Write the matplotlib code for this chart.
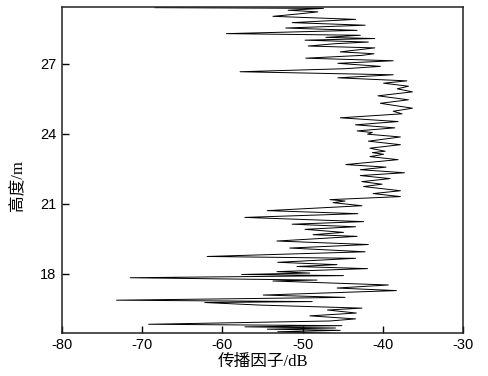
import matplotlib
matplotlib.use("Agg")
import matplotlib.pyplot as plt

# Propagation factor (dB) vs. height (m), top to bottom
factor_db = [
    -68.4, -47.4, -51.8, -48.1, -50.3, -53.7, -43.4, -51.3, -42.2, -52.1,
    -43.2, -59.5, -42.8, -47.1, -41.0, -49.7, -41.8, -45.9, -49.3, -41.0,
    -45.3, -41.1, -42.6, -49.6, -38.7, -45.6, -40.3, -44.7, -57.8, -38.7,
    -45.6, -37.0, -39.9, -36.8, -38.2, -36.3, -40.6, -36.8, -40.3, -36.3,
    -38.7, -37.6, -45.3, -38.1, -43.4, -38.5, -43.2, -41.3, -41.9, -37.8,
    -41.8, -37.8, -41.6, -39.7, -41.3, -39.9, -41.6, -38.1, -44.6, -39.6,
    -42.8, -37.3, -42.8, -39.1, -42.6, -40.1, -42.4, -37.8, -41.2, -37.8,
    -46.6, -44.7, -46.2, -42.6, -54.4, -43.1, -57.2, -42.4, -51.3, -43.4,
    -49.7, -44.9, -48.7, -43.2, -53.2, -41.8, -51.6, -42.2, -61.9, -43.4,
    -53.1, -45.7, -50.7, -41.9, -53.2, -49.1, -57.6, -44.9, -71.5, -48.2,
    -53.7, -39.3, -45.7, -38.3, -54.9, -44.7, -73.2, -48.8, -62.2, -55.3,
    -42.6, -46.9, -43.3, -49.1, -43.4, -46.6, -69.2, -45.1, -57.2, -45.9,
    -54.4, -45.3, -53.1, -46.6,
]
height_m = [
    29.39, 29.36, 29.28, 29.21, 29.13, 29.02, 28.89, 28.75, 28.64, 28.52,
    28.42, 28.28, 28.21, 28.12, 28.07, 28.00, 27.92, 27.85, 27.75, 27.67,
    27.50, 27.42, 27.35, 27.23, 27.12, 27.01, 26.88, 26.78, 26.65, 26.52,
    26.39, 26.26, 26.16, 26.03, 25.92, 25.79, 25.62, 25.45, 25.30, 25.09,
    24.96, 24.85, 24.68, 24.52, 24.38, 24.25, 24.12, 24.05, 23.98, 23.86,
    23.68, 23.53, 23.38, 23.25, 23.19, 23.12, 23.02, 22.89, 22.68, 22.57,
    22.46, 22.33, 22.21, 22.08, 21.95, 21.84, 21.74, 21.56, 21.44, 21.31,
    21.18, 21.12, 21.05, 20.92, 20.71, 20.58, 20.42, 20.24, 20.13, 20.02,
    19.91, 19.78, 19.68, 19.61, 19.41, 19.26, 19.11, 18.95, 18.75, 18.67,
    18.50, 18.40, 18.32, 18.23, 18.10, 18.04, 17.98, 17.93, 17.84, 17.74,
    17.70, 17.53, 17.40, 17.29, 17.10, 17.00, 16.88, 16.82, 16.78, 16.67,
    16.54, 16.46, 16.33, 16.21, 16.08, 15.99, 15.85, 15.79, 15.74, 15.69,
    15.64, 15.59, 15.53, 15.47,
]
x_ticks = [-80, -70, -60, -50, -40, -30]
y_ticks = [18, 21, 24, 27]
x_label = "传播因子/dB"
y_label = "高度/m"

label_font = ["Liberation Serif", "Noto Sans CJK SC"]

fig = plt.figure(figsize=(4.89, 3.76), dpi=100)
ax = fig.add_axes([0.1268, 0.1152, 0.8200, 0.8675])

ax.plot(factor_db, height_m, color="black", linewidth=0.7)

ax.set_xlim(-80, -30)
ax.set_ylim(15.49, 29.44)
ax.set_xticks(x_ticks)
ax.set_yticks(y_ticks)
ax.set_xticklabels([str(t) for t in x_ticks], family="Liberation Sans", fontsize=10.5)
ax.set_yticklabels([str(t) for t in y_ticks], family="Liberation Sans", fontsize=10.5)
ax.tick_params(direction="in", length=5, width=1.0, top=False, right=False, pad=4)

for s in ax.spines.values():
    s.set_linewidth(1.1)
    s.set_color("#222222")

ax.set_xlabel(x_label, family=label_font, fontsize=12, labelpad=1)
ax.set_ylabel(y_label, family=label_font, fontsize=12, labelpad=8)
ax.yaxis.set_label_coords(-0.088, 0.45)

fig.savefig("out.png", dpi=100)
